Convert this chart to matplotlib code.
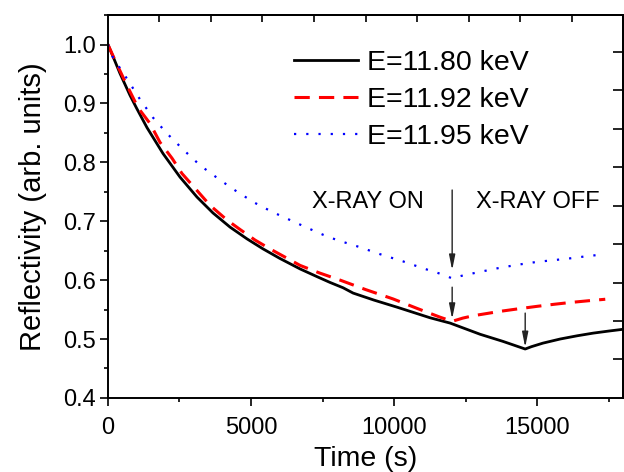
import numpy as np
import matplotlib.pyplot as plt
from matplotlib.ticker import MultipleLocator, NullFormatter

plt.rcParams['font.family'] = ['Liberation Sans', 'DejaVu Sans']

# time (s) and reflectivity
t_1180 = [0, 200, 420, 769, 1000, 1364, 1923, 2517, 3112, 3671, 4266, 4860, 5420, 6000, 6713, 7300,
          7762, 8217, 8566, 9300, 10105, 11259, 11958, 13007, 13800, 14580, 14800, 15200, 15804,
          16400, 16958, 17500, 18000]
r_1180 = [1.0, 0.977, 0.951, 0.914, 0.892, 0.859, 0.815, 0.775, 0.741, 0.714, 0.690, 0.670, 0.653, 0.637,
          0.619, 0.606, 0.596, 0.587, 0.578, 0.566, 0.554, 0.536, 0.527, 0.508, 0.496, 0.483, 0.487,
          0.493, 0.500, 0.5055, 0.510, 0.5135, 0.5165]

t_1192 = [0, 250, 600, 1049, 1469, 1818, 2238, 2587, 3042, 3566, 4161, 4615, 5140, 5664, 6713, 7400,
          8112, 9000, 9965, 10800, 11608, 12028, 12400, 12762, 13706, 14300, 15000, 15600, 16154,
          16800, 17378]
r_1192 = [1.0, 0.973, 0.937, 0.893, 0.866, 0.834, 0.807, 0.781, 0.756, 0.727, 0.702, 0.686, 0.668, 0.653,
          0.625, 0.612, 0.600, 0.584, 0.568, 0.552, 0.537, 0.530, 0.5355, 0.5395, 0.547, 0.551, 0.5555,
          0.559, 0.562, 0.565, 0.5675]

t_1195 = [0, 175, 664, 1119, 1573, 2063, 2622, 3217, 3916, 4545, 5140, 5734, 6364, 7000, 7518, 8007,
          8800, 9510, 10300, 11014, 11600, 12028, 12412, 12902, 13601, 14300, 15000, 15600, 16154,
          16800, 17378]
r_1195 = [1.0, 0.978, 0.942, 0.907, 0.876, 0.849, 0.822, 0.795, 0.770, 0.749, 0.731, 0.716, 0.702, 0.688,
          0.677, 0.668, 0.656, 0.644, 0.632, 0.620, 0.611, 0.603, 0.608, 0.613, 0.620, 0.626, 0.631,
          0.634, 0.637, 0.641, 0.644]

labels = ['E=11.80 keV', 'E=11.92 keV', 'E=11.95 keV']

# arrows: (x, y_start, y_end)
arrows = [(12028, 0.753, 0.617), (12028, 0.588, 0.534), (14580, 0.544, 0.486)]

fig = plt.figure(figsize=(6.24, 4.72), dpi=100)
ax = fig.add_axes([0.173, 0.157, 0.8255, 0.811])

ax.plot(t_1180, r_1180, color='black', lw=2.0, label=labels[0])
ax.plot(t_1192, r_1192, color='red', lw=2.2, ls=(0, (5, 3)), label=labels[1])
ax.plot(t_1195, r_1195, color='blue', lw=1.6, ls=(0, (1, 4.5)), label=labels[2])

for x, y0, y1 in arrows:
    ax.annotate('', xy=(x, y1), xytext=(x, y0),
                arrowprops=dict(arrowstyle='-|>,head_width=0.18,head_length=0.9',
                                color='#222222', lw=1.0, shrinkA=0, shrinkB=0))

ax.text(9091, 0.733, 'X-RAY ON', fontsize=17, ha='center', va='center')
ax.text(15035, 0.733, 'X-RAY OFF', fontsize=17, ha='center', va='center')

ax.set_xlim(0, 18000)
ax.set_ylim(0.4, 1.05)
ax.xaxis.set_major_locator(MultipleLocator(5000))
ax.xaxis.set_minor_locator(MultipleLocator(2500))
ax.yaxis.set_major_locator(MultipleLocator(0.1))
ax.yaxis.set_minor_locator(MultipleLocator(0.05))
ax.yaxis.set_major_formatter(plt.FormatStrFormatter('%.1f'))
ax.tick_params(which='major', direction='out', length=6, width=1.2, labelsize=17)
ax.tick_params(which='minor', direction='out', length=3, width=1.2)
ax.tick_params(axis='x', which='major', pad=7.5)
ax.tick_params(axis='y', which='major', pad=2.5)
for s in ax.spines.values():
    s.set_linewidth(1.4)

# unlabeled inner ticks on top and right
top = ax.secondary_xaxis('top', functions=(lambda t: t / 1800, lambda h: h * 1800))
top.set_xticks(np.arange(1, 10))
top.xaxis.set_major_formatter(NullFormatter())
top.tick_params(direction='in', length=5, width=1.2)
right = ax.secondary_yaxis('right', functions=(lambda y: (y - 0.4) / 0.06525, lambda v: v * 0.06525 + 0.4))
right.set_yticks(np.arange(1, 10))
right.yaxis.set_major_formatter(NullFormatter())
right.tick_params(direction='in', length=7, width=1.2)
for a in (top, right):
    for s in a.spines.values():
        s.set_linewidth(1.4)

ax.set_xlabel('Time (s)', fontsize=20.5, labelpad=5.5)
ax.set_ylabel('Reflectivity (arb. units)', fontsize=21, labelpad=12)

ax.legend(loc='upper left', bbox_to_anchor=(0.361, 0.91), frameon=False, fontsize=20.5,
          handlelength=2.25, handletextpad=0.32, labelspacing=0.39, borderpad=0, borderaxespad=0)

fig.savefig('out.png', dpi=100)
